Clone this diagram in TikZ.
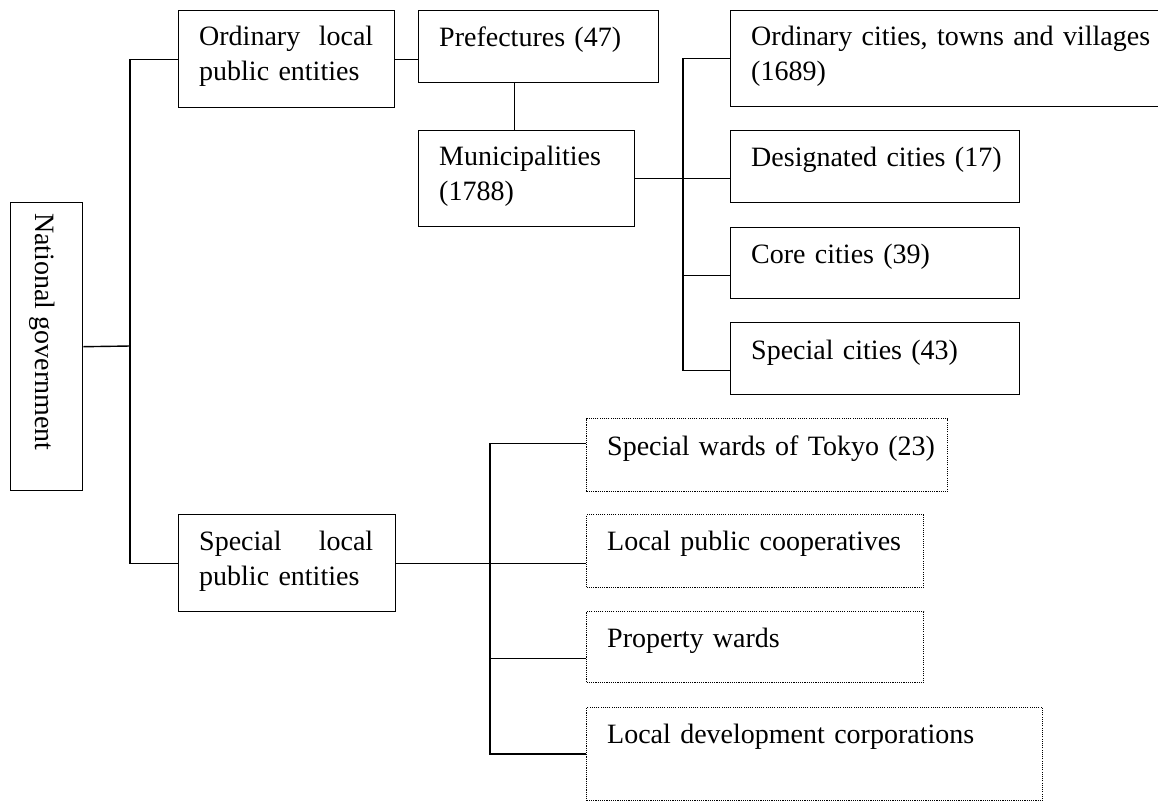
\documentclass[tikz,border=0pt]{standalone}
\usepackage{fontspec}
\setmainfont{Liberation Serif}
\begin{document}
\begin{tikzpicture}[x=1pt,y=-1pt,
  solidbox/.style={draw, line width=1.4pt, rectangle, inner sep=0pt, anchor=north west},
  dotbox/.style={draw, line width=1.2pt, dash pattern=on 1.1pt off 1.1pt, rectangle, inner sep=0pt, anchor=north west},
  conn/.style={line width=1.4pt},
  txt/.style={inner sep=0pt, anchor=base west, align=left, text width=420pt, font=\fontsize{28pt}{35pt}\selectfont},
  jtxt/.style={txt, text width=174pt}]
\useasboundingbox (0,0) rectangle (1158,801);

% boxes
\node[solidbox, minimum width=72pt, minimum height=288pt] (nat) at (10,202) {};
\node[solidbox, minimum width=216pt, minimum height=97pt] (ordl) at (178,10) {};
\node[solidbox, minimum width=240pt, minimum height=72pt] (pref) at (418,10) {};
\node[solidbox, minimum width=216pt, minimum height=96pt] (muni) at (418,130) {};
\node[solidbox, minimum width=429pt, minimum height=96pt] (ordc) at (730,10) {};
\node[solidbox, minimum width=289pt, minimum height=72pt] (desig) at (730,130) {};
\node[solidbox, minimum width=289pt, minimum height=71pt] (core) at (730,227) {};
\node[solidbox, minimum width=289pt, minimum height=72pt] (spc) at (730,322) {};
\node[solidbox, minimum width=217pt, minimum height=97pt] (spl) at (178,514) {};
\node[dotbox, minimum width=361pt, minimum height=73pt] (sw) at (586,418) {};
\node[dotbox, minimum width=337pt, minimum height=73pt] (coop) at (586,514) {};
\node[dotbox, minimum width=337pt, minimum height=71pt] (prop) at (586,611) {};
\node[dotbox, minimum width=456pt, minimum height=93pt] (dev) at (586,707) {};

% texts
\node[txt, text width=, rotate=-90] (nat-t) at (35,213) {National government};
\node[jtxt] (ordl-t) at ([shift={(21,35)}]ordl.north west) {Ordinary\hfill local\\public entities};
\node[txt] (pref-t) at ([shift={(21,36)}]pref.north west) {Prefectures (47)};
\node[txt] (muni-t) at ([shift={(21,35)}]muni.north west) {Municipalities\\(1788)};
\node[txt] (ordc-t) at ([shift={(21,35)}]ordc.north west) {Ordinary cities, towns and villages\\(1689)};
\node[txt] (desig-t) at ([shift={(21,36)}]desig.north west) {Designated cities (17)};
\node[txt] (core-t) at ([shift={(21,36)}]core.north west) {Core cities (39)};
\node[txt] (spc-t) at ([shift={(21,37)}]spc.north west) {Special cities (43)};
\node[jtxt] (spl-t) at ([shift={(21,36)}]spl.north west) {Special\hfill local\\public entities};
\node[txt] (sw-t) at ([shift={(21,37)}]sw.north west) {Special wards of Tokyo (23)};
\node[txt] (coop-t) at ([shift={(21,36)}]coop.north west) {Local public cooperatives};
\node[txt] (prop-t) at ([shift={(21,36)}]prop.north west) {Property wards};
\node[txt] (dev-t) at ([shift={(21,36)}]dev.north west) {Local development corporations};

% junctions
\coordinate (j1) at (130,346);
\coordinate (j2) at (683,178);
\coordinate (j3) at (490,562.5);

% connectors
\draw[conn] (nat.east) -- (j1);
\draw[conn] (ordl.west) -| (j1) |- (spl.west);
\draw[conn] (ordl.east) -- (ordl.east -| pref.west);
\draw[conn] ([xshift=-24pt]pref.south) -- ([xshift=-24pt]pref.south |- muni.north);
\draw[conn] (muni.east) -- (muni.east -| desig.west);
\draw[conn] (ordc.west) -| (j2);
\draw[conn] (j2) |- ([yshift=-12pt]spc.west);
\draw[conn] ([yshift=-12.5pt]core.west -| j2) -- ([yshift=-12.5pt]core.west);
\draw[conn] (spl.east) -- (spl.east -| coop.west);
\draw[conn] ([yshift=11.5pt]sw.west) -| (j3);
\draw[conn] (j3) |- (dev.west);
\draw[conn] ([yshift=-11.5pt]prop.west -| j3) -- ([yshift=-11.5pt]prop.west);
\end{tikzpicture}
\end{document}
